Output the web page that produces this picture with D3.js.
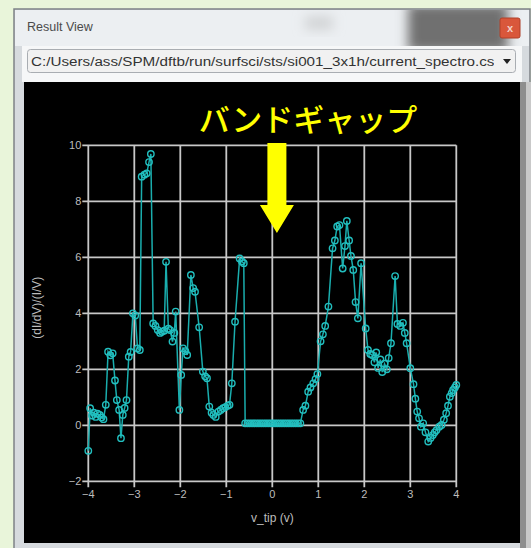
<!DOCTYPE html>
<html><head><meta charset="utf-8">
<script src="https://cdn.jsdelivr.net/npm/d3@7"></script>
<style>
html,body{margin:0;padding:0;background:#e9f5da;overflow:hidden}
svg{display:block}
</style></head>
<body>
<svg id="c" width="531" height="548"></svg>
<script>
// ---- data ----
const vTip = [-4.00,-3.96,-3.92,-3.88,-3.84,-3.80,-3.75,-3.71,-3.67,-3.62,-3.57,-3.52,-3.47,-3.42,-3.38,-3.33,-3.29,-3.25,-3.21,-3.17,-3.12,-3.08,-3.03,-2.98,-2.93,-2.88,-2.84,-2.78,-2.73,-2.68,-2.64,
-2.59,-2.54,-2.49,-2.44,-2.40,-2.35,-2.31,-2.26,-2.22,-2.17,-2.13,-2.10,-2.02,-1.98,-1.94,-1.89,-1.85,-1.77,-1.72,-1.68,-1.59,-1.51,-1.46,-1.42,-1.37,-1.32,-1.28,-1.23,-1.17,-1.12,-1.07,-1.02,-0.97,-0.93,-0.88,-0.81,-0.71,-0.66,-0.62,
-0.59,-0.54,-0.49,-0.44,-0.39,-0.34,-0.29,-0.24,-0.19,-0.14,-0.09,-0.04,0.01,0.06,0.11,0.16,0.21,0.26,0.31,0.36,0.41,0.46,0.51,0.56,0.61,
0.67,0.72,0.78,0.83,0.89,0.94,0.98,1.05,1.10,1.15,1.22,1.31,1.36,1.41,1.46,1.53,1.58,1.62,1.67,1.71,1.76,1.81,1.86,1.93,
2.03,2.08,2.13,2.17,2.22,2.26,2.30,2.35,2.39,2.44,2.49,2.53,2.58,2.67,2.72,2.78,2.84,2.88,2.92,3.00,3.07,3.11,3.15,3.19,3.23,3.28,3.33,3.39,3.44,3.49,3.53,3.57,3.63,3.68,3.73,3.78,3.82,3.86,3.90,3.93,3.97,4.00];
const didv = [-0.91,0.61,0.35,0.45,0.30,0.42,0.37,0.28,0.22,0.73,2.63,2.50,2.57,1.60,0.90,0.55,-0.46,0.37,0.62,0.90,2.45,2.62,4.00,3.92,2.75,2.69,8.88,8.95,9.00,9.40,9.69,
3.64,3.55,3.40,3.30,3.34,3.38,5.84,3.45,3.40,2.99,3.30,4.06,0.55,1.80,2.75,2.65,2.51,5.37,4.90,4.77,3.50,1.92,1.75,1.68,0.67,0.45,0.37,0.30,0.49,0.55,0.61,0.65,0.70,0.73,1.50,3.70,5.96,5.85,5.79,
0.07,0.07,0.07,0.07,0.07,0.07,0.07,0.07,0.07,0.07,0.07,0.07,0.07,0.07,0.07,0.07,0.07,0.07,0.07,0.07,0.07,0.07,0.07,0.07,0.07,
0.55,0.70,1.20,1.35,1.50,1.65,1.83,3.00,3.25,3.55,4.24,6.32,6.60,7.10,7.15,5.60,6.40,7.30,6.60,6.05,5.55,4.40,3.82,5.79,
3.46,2.69,2.55,2.51,2.25,2.60,2.05,2.35,1.90,2.20,2.00,2.40,2.93,5.33,3.62,3.55,3.66,3.30,2.93,2.04,1.47,0.95,0.49,0.25,-0.05,0.07,-0.25,-0.58,-0.45,-0.35,-0.25,-0.17,-0.05,0.01,0.20,0.43,0.70,1.02,1.15,1.26,1.35,1.44];
const xTicks = [-4,-3,-2,-1,0,1,2,3,4];
const yTicks = [-2,0,2,4,6,8,10];
const xLabel = "v_tip (v)";
const yLabel = "(dI/dV)/(I/V)";
const windowTitle = "Result View";
const filePath = "C:/Users/ass/SPM/dftb/run/surfsci/sts/si001_3x1h/current_spectro.csv";
const annotation = "バンドギャップ";
const gapCenter = 0.1;

const svg = d3.select("#c");
const defs = svg.append("defs");
const bl = defs.append("filter").attr("id","bl").attr("x","-50%").attr("y","-50%").attr("width","200%").attr("height","200%");
bl.append("feGaussianBlur").attr("stdDeviation",6);

// ---- window chrome ----
svg.append("rect").attr("x",14).attr("y",9).attr("width",516).attr("height",545)
  .attr("fill","#d6dade").attr("stroke","#7d8186").attr("stroke-width",1.5);
svg.append("rect").attr("x",15).attr("y",10).attr("width",514).attr("height",36).attr("fill","#eceff2");
defs.append("clipPath").attr("id","tb").append("rect").attr("x",15).attr("y",10).attr("width",514).attr("height",36);
const tbg = svg.append("g").attr("clip-path","url(#tb)");
tbg.append("rect").attr("x",408).attr("y",4).attr("width",100).attr("height",48).attr("fill","#6f6f6f").attr("filter","url(#bl)");
tbg.append("rect").attr("x",305).attr("y",16).attr("width",28).attr("height",14).attr("fill","#d2d4d6").attr("filter","url(#bl)");
svg.append("text").attr("x",27).attr("y",31).text(windowTitle)
  .attr("font-family","Liberation Sans, Arial, sans-serif").attr("font-size",12.5).attr("fill","#4b4b4b");
// close button
svg.append("rect").attr("x",500).attr("y",18).attr("width",20).attr("height",20).attr("rx",2)
  .attr("fill","#d9573b").attr("stroke","#b04028");
svg.append("text").attr("x",510).attr("y",32).attr("text-anchor","middle").text("x")
  .attr("font-family","Liberation Sans, Arial, sans-serif").attr("font-size",11).attr("font-weight","bold").attr("fill","#f3d0c8");
// white strip area
svg.append("rect").attr("x",22).attr("y",46).attr("width",500).attr("height",36).attr("fill","#f6f7f8");
// combo box
svg.append("rect").attr("x",27.5).attr("y",49.5).attr("width",488).attr("height",23).attr("rx",3)
  .attr("fill","#f1f1f1").attr("stroke","#a9adb2");
defs.append("clipPath").attr("id","cc").append("rect").attr("x",28).attr("y",50).attr("width",466).attr("height",22);
svg.append("text").attr("x",31).attr("y",66).text(filePath).attr("clip-path","url(#cc)")
  .attr("font-family","Liberation Sans, Arial, sans-serif").attr("font-size",12).attr("fill","#333")
  .attr("textLength",471).attr("lengthAdjust","spacingAndGlyphs");
svg.append("path").attr("d","M503,59 L511,59 L507,64 Z").attr("fill","#222");

// black panel
svg.append("rect").attr("x",24).attr("y",82).attr("width",496).attr("height",461).attr("fill","#000");
// right scrollbar
svg.append("rect").attr("x",520).attr("y",82).attr("width",6).attr("height",466).attr("fill","#8e8e8e");
svg.append("rect").attr("x",526).attr("y",82).attr("width",5).attr("height",466).attr("fill","#c9c9c9");

// ---- chart ----
const x = d3.scaleLinear().domain([-4,4]).range([88.3,456.3]);
const y = d3.scaleLinear().domain([-2,10]).range([481.3,145.3]);
const gridColor = "#c8c8c8";
const font = "Liberation Sans, Arial, sans-serif";

const g = svg.append("g");
g.selectAll(".vg").data(xTicks).join("line")
  .attr("x1",d=>x(d)).attr("x2",d=>x(d)).attr("y1",y(10)).attr("y2",y(-2)+6)
  .attr("stroke",gridColor).attr("stroke-width",1.8);
g.selectAll(".hg").data(yTicks).join("line")
  .attr("y1",d=>y(d)).attr("y2",d=>y(d)).attr("x1",x(-4)-6).attr("x2",x(4))
  .attr("stroke",gridColor).attr("stroke-width",1.8);

g.selectAll(".xl").data(xTicks).join("text")
  .attr("x",d=>x(d)).attr("y",y(-2)+17).attr("text-anchor","middle")
  .text(d=>d<0?"\u2212"+Math.abs(d):d)
  .attr("font-family",font).attr("font-size",11).attr("fill","#bdbdbd");
g.selectAll(".yl").data(yTicks).join("text")
  .attr("x",x(-4)-7).attr("y",d=>y(d)+4).attr("text-anchor","end")
  .text(d=>d<0?"\u2212"+Math.abs(d):d)
  .attr("font-family",font).attr("font-size",11).attr("fill","#bdbdbd");

svg.append("text").attr("x",x(0)).attr("y",522).attr("text-anchor","middle").text(xLabel)
  .attr("font-family",font).attr("font-size",12).attr("fill","#bdbdbd");
svg.append("text").attr("transform",`translate(41,${y(4.2)}) rotate(-90)`).attr("text-anchor","middle").text(yLabel)
  .attr("font-family",font).attr("font-size",12).attr("fill","#bdbdbd");

// data
const pts = vTip.map((v,i)=>[v,didv[i]]);
const line = d3.line().x(d=>x(d[0])).y(d=>y(d[1]));
svg.append("path").datum(pts).attr("d",line).attr("fill","none")
  .attr("stroke","#1aaeae").attr("stroke-width",1.5);
svg.selectAll(".pt").data(pts).join("circle")
  .attr("cx",d=>x(d[0])).attr("cy",d=>y(d[1])).attr("r",3.2)
  .attr("fill","none").attr("stroke","#22bfbf").attr("stroke-width",1.4);

// annotation
svg.append("text").attr("x",308).attr("y",131).attr("text-anchor","middle").text(annotation)
  .attr("font-family","Noto Sans CJK JP, sans-serif").attr("font-size",31).attr("font-weight",500).attr("fill","#ffff00");
const ax = x(gapCenter);
svg.append("path")
  .attr("d",`M${ax-9.5},143 L${ax+9.5},143 L${ax+9.5},205 L${ax+17},205 L${ax},233 L${ax-17},205 L${ax-9.5},205 Z`)
  .attr("fill","#ffff00");
</script>
</body></html>
